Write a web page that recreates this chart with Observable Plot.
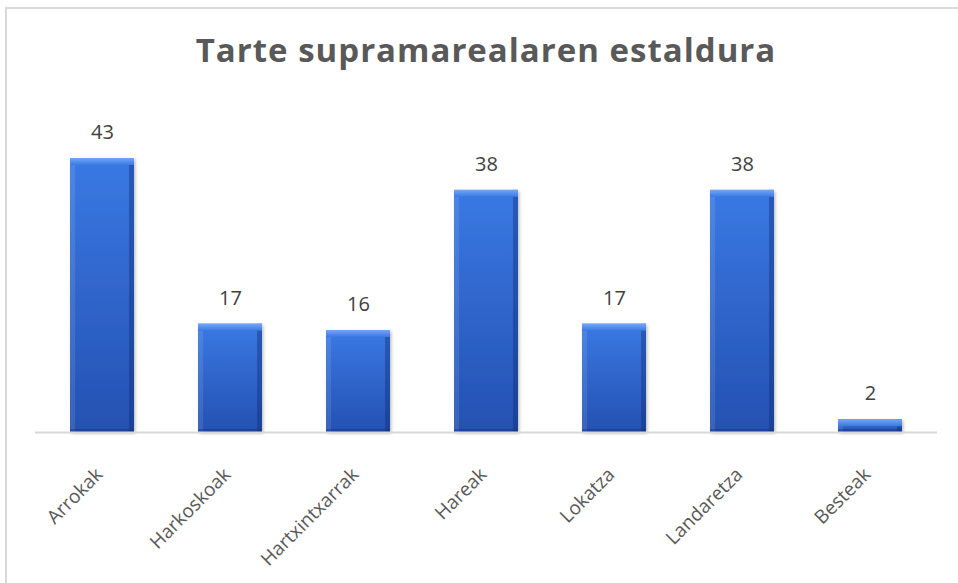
<!DOCTYPE html>
<html>
<head>
<meta charset="utf-8">
<script src="https://cdn.jsdelivr.net/npm/d3@7"></script>
<script src="https://cdn.jsdelivr.net/npm/@observablehq/plot@0.6"></script>
<style>
  html, body { margin: 0; padding: 0; background: #fff; width: 958px; height: 583px; overflow: hidden; }
  #frame { position: absolute; left: 5px; top: 7px; width: 1000px; height: 1000px; border: 2px solid #d9d9d9; box-sizing: border-box; pointer-events: none; }
  #title { position: absolute; left: 0; top: 0; width: 958px; height: 100px; margin: 0; padding: 0;
           font-family: "Open Sans", sans-serif; font-weight: 700; font-size: 33px; letter-spacing: 1px; color: #595959;
           text-align: center; line-height: 100px; box-sizing: border-box; padding-left: 14px; padding-bottom: 12px; }
  #chart { position: absolute; left: 0; top: 100px; }
</style>
</head>
<body>
<div id="frame"></div>
<h1 id="title">Tarte supramarealaren estaldura</h1>
<div id="chart"></div>
<script>
const categories = ["Arrokak", "Harkoskoak", "Hartxintxarrak", "Hareak", "Lokatza", "Landaretza", "Besteak"];
const values = [43, 17, 16, 38, 17, 38, 2];

const data = categories.map((name, i) => ({name, value: values[i]}));

const ns = "http://www.w3.org/2000/svg";
const defsMark = () => {
  const defs = document.createElementNS(ns, "defs");
  defs.innerHTML = `
    <linearGradient id="barGrad" x1="0" y1="0" x2="0" y2="1">
      <stop offset="0" stop-color="#3a79e4"/>
      <stop offset="1" stop-color="#2451b1"/>
    </linearGradient>
    <linearGradient id="topGrad" x1="0" y1="0" x2="0" y2="1">
      <stop offset="0" stop-color="#72a6f7"/>
      <stop offset="1" stop-color="#3a79e4"/>
    </linearGradient>
    <filter id="shadow" x="-20%" y="-20%" width="140%" height="140%">
      <feDropShadow dx="1.5" dy="1.5" stdDeviation="1.5" flood-color="#000" flood-opacity="0.25"/>
    </filter>`;
  return defs;
};

const bw = 64;
const chart = Plot.plot({
  width: 958,
  height: 483,
  marginLeft: 35,
  marginRight: 21,
  marginTop: 58,
  marginBottom: 151,
  style: {fontFamily: "Open Sans, sans-serif", background: "transparent"},
  x: {domain: categories, paddingInner: 0.5, paddingOuter: 0.25, axis: null},
  y: {domain: [0, 43], axis: null},
  marks: [
    defsMark,
    Plot.barY(data, {x: "name", y: "value", fill: "url(#barGrad)"}),
    Plot.barY(data, {x: "name", y: "value", fill: "#ffffff", fillOpacity: 0.1, insetRight: bw - 5}),
    Plot.barY(data, {x: "name", y: "value", fill: "#0b2a6e", fillOpacity: 0.38, insetLeft: bw - 5}),
    Plot.barY(data, {x: "name", y1: "value", y2: "value", insetBottom: -7, fill: "url(#topGrad)"}),
    Plot.barY(data, {x: "name", y1: 0, y2: 0, insetTop: -3, fill: "#12327a", fillOpacity: 0.4}),
    Plot.ruleY([0], {stroke: "#d9d9d9", strokeWidth: 2}),
    Plot.text(data, {x: "name", y: "value", text: d => String(d.value), dy: -26, fontSize: 20, fill: "#404040"}),
    // category tick labels
    Plot.text(data, {x: "name", frameAnchor: "bottom", text: "name", rotate: -45, textAnchor: "end", lineAnchor: "middle",
                     dx: -3, dy: 39, fontSize: 19, fill: "#595959"})
  ]
});
const barG = chart.querySelector('[aria-label="bar"]');
if (barG) barG.setAttribute("filter", "url(#shadow)");
document.getElementById("chart").appendChild(chart);
</script>
</body>
</html>
